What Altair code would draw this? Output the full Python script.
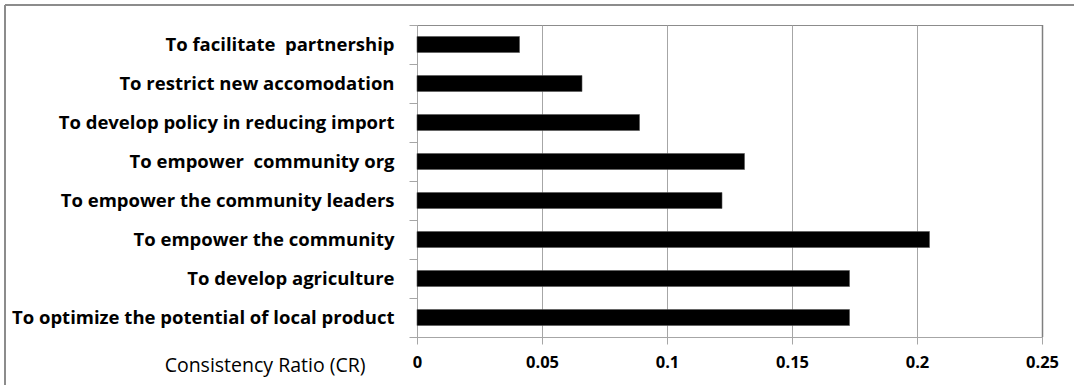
import altair as alt
import pandas as pd

# Objectives, listed top to bottom, with their consistency ratios
objectives = [
    "To facilitate \u00a0partnership",
    "To restrict new accomodation\u00a0",
    "To develop policy in reducing import\u00a0",
    "To empower \u00a0community org",
    "To empower the community leaders",
    "To empower the community",
    "To develop agriculture",
    "To optimize the potential of local product",
]
cr_values = [0.041, 0.066, 0.089, 0.131, 0.122, 0.205, 0.173, 0.173]
x_ticks = [0, 0.05, 0.1, 0.15, 0.2, 0.25]

df = pd.DataFrame({"objective": objectives, "cr": cr_values})

FONT = "Open Sans"
GRID = "#a6a6a6"

bars = alt.Chart(df).mark_bar(
    color="black", size=16, stroke="#555555", strokeWidth=0.6
).encode(
    x=alt.X(
        "cr:Q",
        scale=alt.Scale(domain=[0, 0.25], nice=False, zero=True),
        axis=alt.Axis(
            values=x_ticks,
            format="~g",
            title="Consistency Ratio (CR)",
            titleFont=FONT,
            titleFontSize=19.5,
            titleFontWeight="normal",
            titleColor="black",
            titleX=-52,
            titleY=34,
            titleAlign="right",
            titleBaseline="alphabetic",
            titleAngle=0,
            labelFont=FONT,
            labelFontSize=16.5,
            labelFontWeight="bold",
            labelColor="black",
            labelPadding=10,
            labelFlush=False,
            tickSize=7,
            tickColor=GRID,
            domainColor=GRID,
            grid=True,
            gridColor=GRID,
            gridWidth=1,
        ),
    ),
    y=alt.Y(
        "objective:N",
        sort=objectives,
        scale=alt.Scale(paddingInner=0, paddingOuter=0),
        axis=alt.Axis(
            title=None,
            labelFont=FONT,
            labelFontSize=18.5,
            labelFontWeight="bold",
            labelColor="black",
            labelPadding=15,
            labelLimit=500,
            tickBand="extent",
            tickSize=8,
            tickColor=GRID,
            domainColor=GRID,
            grid=False,
        ),
    ),
)

# Outer frame lines along the top and left edges of the figure
frame_src = pd.DataFrame({"k": [0]})
frame_left = alt.Chart(frame_src).mark_rule(color="#8c8c8c", strokeWidth=2).encode(
    x=alt.value(-412), y=alt.value(-20), y2=alt.value(400)
)
frame_top = alt.Chart(frame_src).mark_rule(color="#8c8c8c", strokeWidth=2).encode(
    x=alt.value(-412), x2=alt.value(700), y=alt.value(-20)
)
# Slightly heavier right edge of the plot area
plot_right = alt.Chart(frame_src).mark_rule(color="#7f7f7f", strokeWidth=1.5).encode(
    x=alt.value(625.5), y=alt.value(0), y2=alt.value(312)
)

chart = alt.layer(bars, frame_left, frame_top, plot_right).properties(
    width=625,
    height=312,
    autosize=alt.AutoSizeParams(type="none"),
    padding={"left": 417, "top": 25, "right": 32, "bottom": 48},
    background="white",
).configure_view(
    stroke="#8c8c8c", strokeWidth=1
)

chart.save("out.html", embed_options={"renderer": "svg", "actions": False})
